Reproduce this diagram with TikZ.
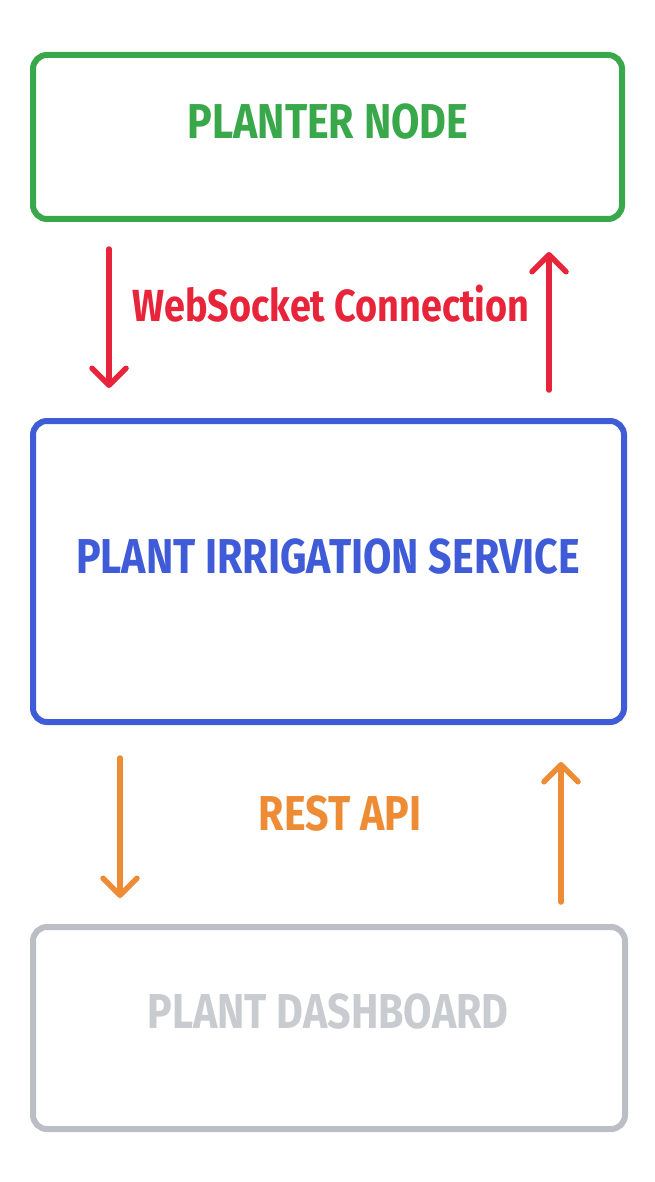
\documentclass[tikz,border=0pt]{standalone}
\usepackage{fontspec}
\newfontfamily\hand[FakeStretch=0.84]{Fira Sans}
\usetikzlibrary{arrows.meta}
\definecolor{cgreen}{HTML}{38A84A}
\definecolor{cred}{HTML}{E8243A}
\definecolor{cblue}{HTML}{3F5BD8}
\definecolor{corange}{HTML}{EE8B35}
\definecolor{cgray}{HTML}{BBBFC5}
\definecolor{cgraytext}{HTML}{C8CCD1}
\tikzset{
  boxline/.style={line width=6pt, rounded corners=14pt},
  lbl/.style={font=\hand\bfseries\fontsize{49}{52}\selectfont, inner sep=0pt, anchor=center},
  conn/.style={line width=5.5pt, line cap=round, -{Straight Barb[length=17pt,width=34pt,line width=5.5pt,round]}},
}
\begin{document}
\begin{tikzpicture}[x=1pt,y=-1pt]
\useasboundingbox (0,0) rectangle (655,1182);
% boxes
\draw[boxline, cgreen] (33,55) rectangle (622,219);
\draw[boxline, cblue] (33,421) rectangle (624,722);
\draw[boxline, cgray] (33,927) rectangle (625,1129);
% labels
\node[lbl, text=cgreen] (planter) at (328,122) {PLANTER NODE};
\node[lbl, text=cblue] (service) at (328,557) {PLANT IRRIGATION SERVICE};
\node[lbl, text=cgraytext] (dash) at (328,1012) {PLANT DASHBOARD};
\node[lbl, text=cred, font=\hand\bfseries\fontsize{45}{48}\selectfont] (ws) at (331,304) {WebSocket Connection};
\node[lbl, text=corange] (rest) at (340,814) {REST API};
% arrow endpoints
\coordinate (a1s) at (109,249);
\coordinate (a1e) at (109,388);
\coordinate (a2s) at (549,390);
\coordinate (a2e) at (549,252);
\coordinate (b1s) at (120,758);
\coordinate (b1e) at (120,898);
\coordinate (b2s) at (561,902);
\coordinate (b2e) at (561,762);
\draw[conn, cred] (a1s) -- (a1e);
\draw[conn, cred] (a2s) -- (a2e);
\draw[conn, corange] (b1s) -- (b1e);
\draw[conn, corange] (b2s) -- (b2e);
\end{tikzpicture}
\end{document}
